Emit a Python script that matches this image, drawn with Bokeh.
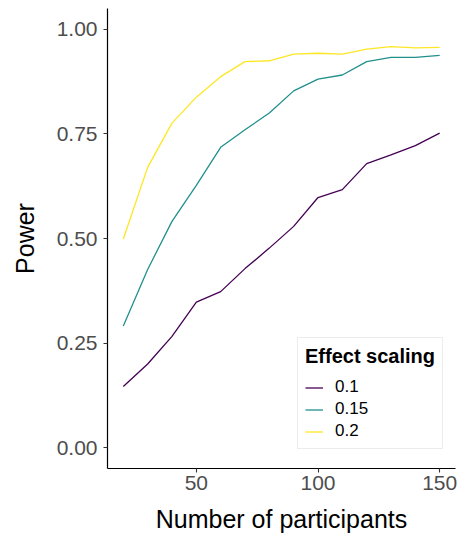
from bokeh.plotting import figure
from bokeh.models import Range1d, Legend, LegendItem, FixedTicker
from bokeh.embed import file_html
from bokeh.resources import INLINE

participants = [20, 30, 40, 50, 60, 70, 80, 90, 100, 110, 120, 130, 140, 150]
power_01 = [0.146, 0.200, 0.266, 0.348, 0.373, 0.428, 0.477, 0.529, 0.598, 0.617, 0.679, 0.700, 0.722, 0.752]
power_015 = [0.291, 0.426, 0.541, 0.627, 0.718, 0.760, 0.800, 0.853, 0.881, 0.891, 0.923, 0.933, 0.933, 0.938]
power_02 = [0.499, 0.670, 0.776, 0.838, 0.887, 0.923, 0.925, 0.941, 0.943, 0.941, 0.953, 0.959, 0.956, 0.957]
series_labels = ["0.1", "0.15", "0.2"]
series_colors = ["#440154", "#21908C", "#FDE725"]
y_ticks = [0.0, 0.25, 0.5, 0.75, 1.0]
x_ticks = [50, 100, 150]

FONT = "Liberation Sans"

p = figure(width=457, height=540, output_backend="svg", toolbar_location=None,
           x_range=Range1d(13.5, 156.5), y_range=Range1d(-0.05, 1.05),
           min_border_left=107, min_border_right=2, min_border_top=8, min_border_bottom=72)
p.outline_line_color = None
p.xgrid.grid_line_color = None
p.ygrid.grid_line_color = None

renderers = []
for ys, c in zip([power_01, power_015, power_02], series_colors):
    r = p.line(participants, ys, line_color=c, line_width=1.3)
    renderers.append(r)

for ax in (p.xaxis[0], p.yaxis[0]):
    ax.axis_line_color = "black"
    ax.axis_line_width = 1.2
    ax.major_tick_line_color = "#333333"
    ax.major_tick_line_width = 1.1
    ax.major_tick_in = 0
    ax.major_tick_out = 4
    ax.minor_tick_line_color = None
    ax.major_label_text_color = "#4D4D4D"
    ax.major_label_text_font = FONT
    ax.major_label_text_font_size = "21px"
    ax.axis_label_text_font = FONT
    ax.axis_label_text_font_size = "25px"
    ax.axis_label_text_font_style = "normal"
    ax.axis_label_text_color = "black"

p.xaxis.ticker = FixedTicker(ticks=x_ticks)
p.yaxis.ticker = FixedTicker(ticks=y_ticks)
p.yaxis.major_label_overrides = {0.0: "0.00", 0.25: "0.25", 0.5: "0.50", 0.75: "0.75", 1.0: "1.00"}
p.xaxis.axis_label = "Number of participants"
p.yaxis.axis_label = "Power"
p.xaxis.major_label_standoff = 3
p.yaxis.major_label_standoff = 6
p.xaxis.axis_label_standoff = 12
p.yaxis.axis_label_standoff = 15

legend = Legend(items=[LegendItem(label=l, renderers=[r]) for l, r in zip(series_labels, renderers)],
                location=(190, 19), title="Effect scaling",
                title_text_font=FONT, title_text_font_style="bold", title_text_font_size="20px",
                title_text_color="black", title_standoff=9,
                label_text_font=FONT, label_text_font_size="17px", label_text_color="black",
                glyph_width=18, glyph_height=17, label_standoff=12, label_height=17,
                spacing=2, padding=7, margin=0,
                border_line_color="#D9D9D9", border_line_width=1,
                background_fill_color="white", background_fill_alpha=1)
p.add_layout(legend, "center")

open("out.html", "w").write(file_html(p, INLINE))
